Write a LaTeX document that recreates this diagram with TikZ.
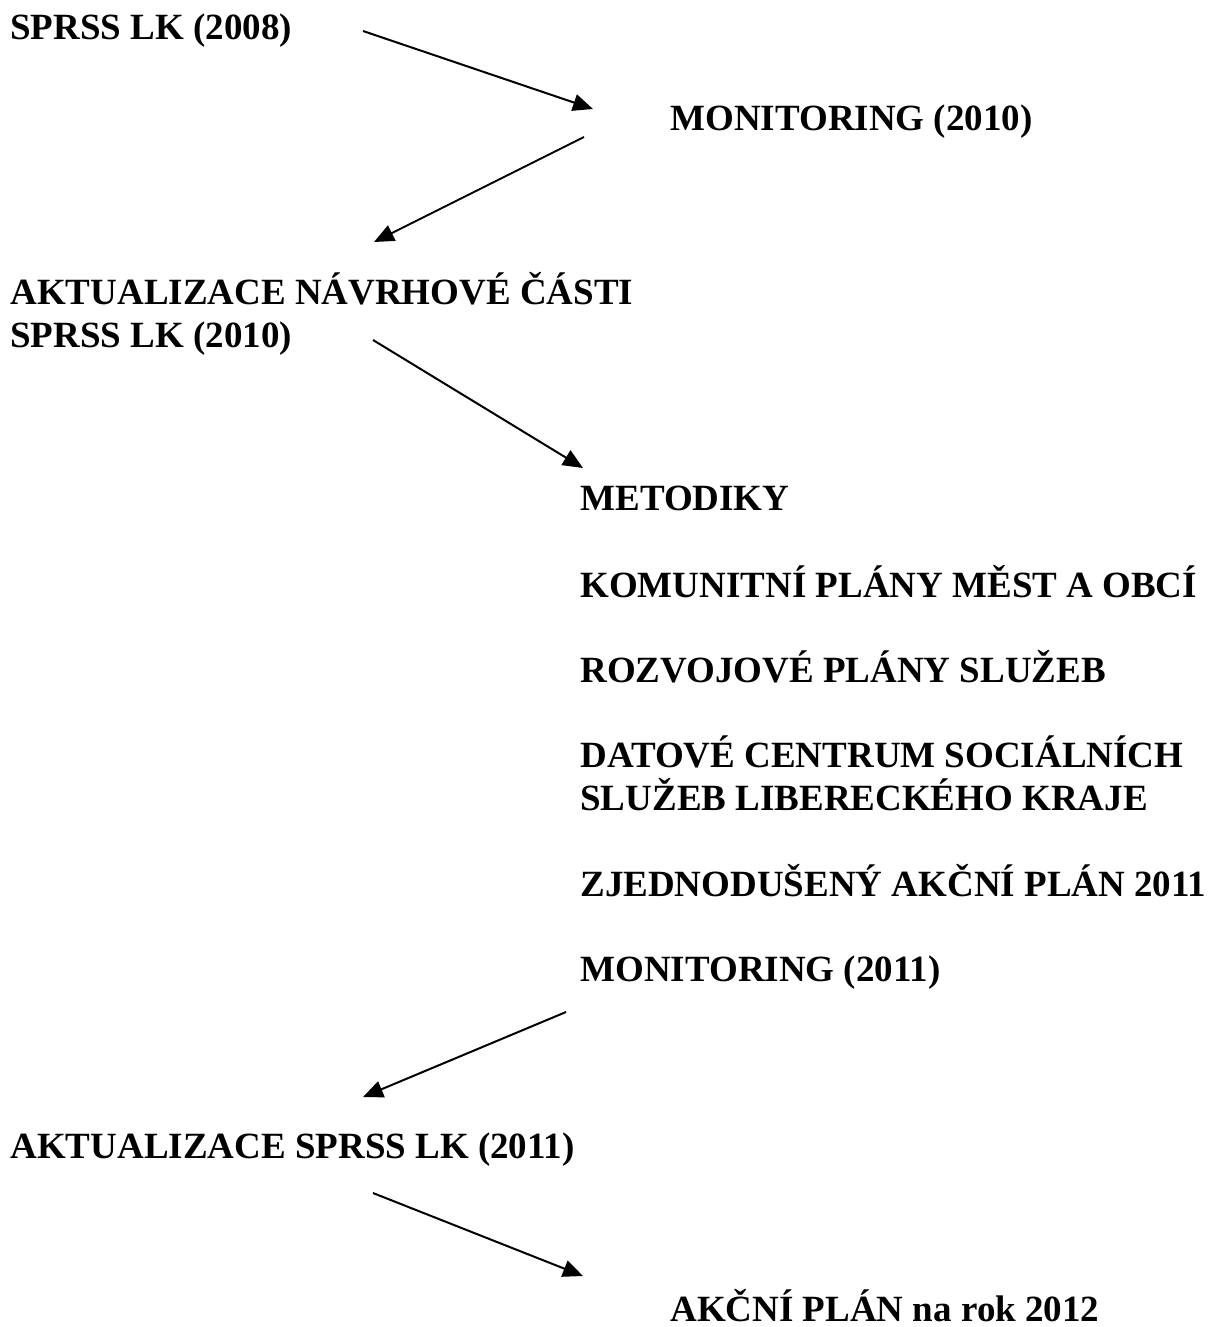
\documentclass[tikz,border=0pt]{standalone}
\usepackage{fontspec}
\setmainfont{Liberation Serif}
\usetikzlibrary{arrows.meta}
\begin{document}
\begin{tikzpicture}[x=0.5pt,y=-0.5pt,
  lbl/.style={anchor=base west,inner sep=0pt,font=\fontsize{18.5pt}{21.5pt}\selectfont\bfseries},
  arr/.style={line width=1pt,-{Triangle[length=10pt,width=8.5pt]}}]
\useasboundingbox (0,0) rectangle (1212,1327);
% texts
\node[lbl] (sprss08) at (10,40) {SPRSS LK (2008)};
\node[lbl] (mon10) at (670,131) {MONITORING (2010)};
\node[lbl] (akt10a) at (10,304) {AKTUALIZACE NÁVRHOVÉ ČÁSTI};
\node[lbl] (akt10b) at (10,347) {SPRSS LK (2010)};
\node[lbl] (met) at (580,510) {METODIKY};
\node[lbl] (kom) at (580,597) {KOMUNITNÍ PLÁNY MĚST A OBCÍ};
\node[lbl] (roz) at (580,682) {ROZVOJOVÉ PLÁNY SLUŽEB};
\node[lbl] (dat1) at (580,767) {DATOVÉ CENTRUM SOCIÁLNÍCH};
\node[lbl] (dat2) at (580,810) {SLUŽEB LIBERECKÉHO KRAJE};
\node[lbl] (zje) at (580,896) {ZJEDNODUŠENÝ AKČNÍ PLÁN 2011};
\node[lbl] (mon11) at (580,981) {MONITORING (2011)};
\node[lbl] (akt11) at (10,1158) {AKTUALIZACE SPRSS LK (2011)};
\node[lbl] (ap12) at (670,1321) {AKČNÍ PLÁN na rok 2012};
% arrow end points
\coordinate (a1s) at (363,31);  \coordinate (a1e) at (593,109);
\coordinate (a2s) at (584,137); \coordinate (a2e) at (374,242);
\coordinate (a3s) at (373,340); \coordinate (a3e) at (583,468);
\coordinate (a4s) at (566,1012); \coordinate (a4e) at (363,1097);
\coordinate (a5s) at (373,1193); \coordinate (a5e) at (583,1276);
\draw[arr] (a1s) -- (a1e);
\draw[arr] (a2s) -- (a2e);
\draw[arr] (a3s) -- (a3e);
\draw[arr] (a4s) -- (a4e);
\draw[arr] (a5s) -- (a5e);
\end{tikzpicture}
\end{document}
